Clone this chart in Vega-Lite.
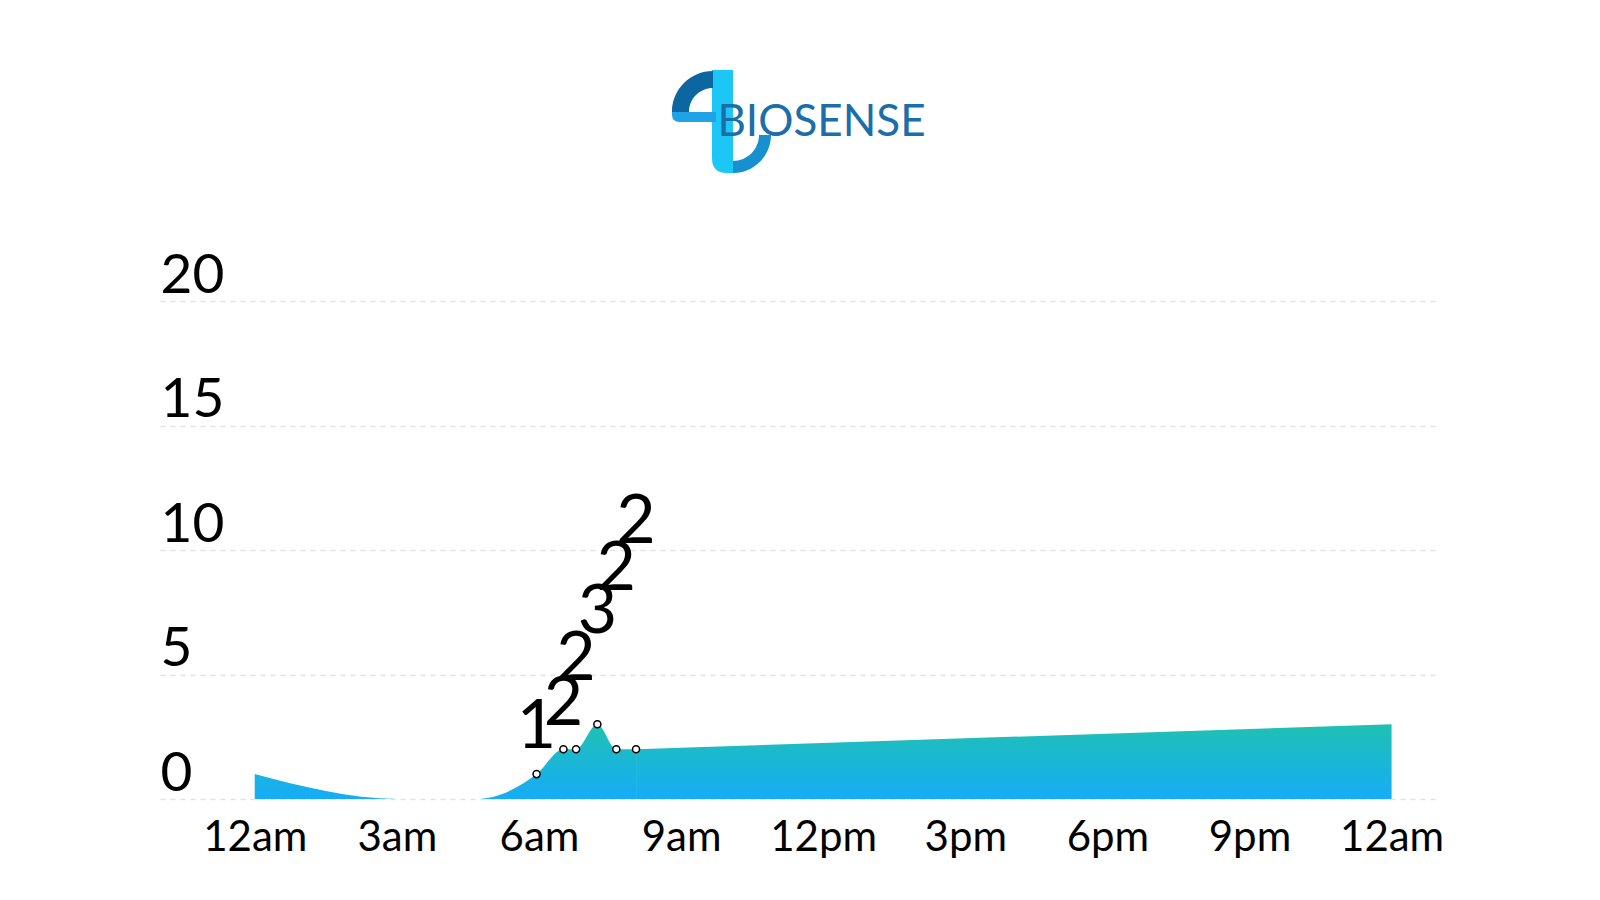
{
  "$schema": "https://vega.github.io/schema/vega-lite/v6.json",
  "background": "white",
  "autosize": {"type": "pad"},
  "padding": {"left": 160, "top": 40, "right": 0, "bottom": 0},
  "bounds": "flush",
  "spacing": 101,
  "config": {"view": {"stroke": null}, "font": "Lato"},
  "datasets": {
    "logo": [
      {"piece": "a_stem"},
      {"piece": "b_lower"},
      {"piece": "c_bar"},
      {"piece": "d_top"}
    ],
    "trend": [
      {"time": "2024-01-01T00:00:00", "count": 1},
      {"time": "2024-01-01T03:00:00", "count": 0},
      {"time": "2024-01-01T04:40:00", "count": 0},
      {"time": "2024-01-01T05:57:00", "count": 1},
      {"time": "2024-01-01T06:31:00", "count": 2},
      {"time": "2024-01-01T06:47:00", "count": 2},
      {"time": "2024-01-01T07:14:00", "count": 3},
      {"time": "2024-01-01T07:38:00", "count": 2},
      {"time": "2024-01-01T08:03:00", "count": 2},
      {"time": "2024-01-02T00:00:00", "count": 3}
    ],
    "readings": [
      {"time": "2024-01-01T05:57:00", "count": 1, "label_level": 2.05},
      {"time": "2024-01-01T06:31:00", "count": 2, "label_level": 2.97},
      {"time": "2024-01-01T06:47:00", "count": 2, "label_level": 4.78},
      {"time": "2024-01-01T07:14:00", "count": 3, "label_level": 6.67},
      {"time": "2024-01-01T07:38:00", "count": 2, "label_level": 8.39},
      {"time": "2024-01-01T08:03:00", "count": 2, "label_level": 10.28}
    ]
  },
  "vconcat": [
    {
      "width": 1275,
      "height": 160,
      "layer": [
        {
          "data": {"name": "logo"},
          "mark": {"type": "point", "filled": true, "size": 4, "opacity": 1, "strokeWidth": 0},
          "encoding": {
            "shape": {
              "field": "piece", "type": "nominal", "legend": null,
              "scale": {
                "domain": ["a_stem", "b_lower", "c_bar", "d_top"],
                "range": [
                  "M-85.5,-50 L-64.5,-50 L-64.5,53 L-71,53 Q-85.5,53 -85.5,38 Z",
                  "M-64.5,53 A38,38 0 0 0 -26.5,15 L-38.5,15 A26,26 0 0 1 -64.5,41 Z",
                  "M-81.5,-8 L-81.5,2 L-118,2 Q-125.5,2 -125.5,-5.5 L-125.5,-8 Z",
                  "M-125.5,-8 A41,41 0 0 1 -84.5,-49 L-84.5,-32 A24,24 0 0 0 -108.5,-8 Z"
                ]
              }
            },
            "color": {
              "field": "piece", "type": "nominal", "legend": null,
              "scale": {
                "domain": ["a_stem", "b_lower", "c_bar", "d_top"],
                "range": ["#1cc7f6", "#1690cf", "#1fa3e6", "#0c67a0"]
              }
            }
          }
        },
        {
          "data": {"values": [{"brand": "BIOSENSE"}]},
          "mark": {"type": "text", "fontSize": 44, "font": "Lato", "dx": 24, "dy": 16, "align": "center", "baseline": "alphabetic", "color": "#1b6ea8"},
          "encoding": {"text": {"field": "brand", "type": "nominal"}}
        }
      ]
    },
    {
      "width": 1275,
      "height": 498,
      "layer": [
        {
          "data": {"name": "trend"},
          "transform": [{"filter": {"field": "time", "lte": {"year": 2024, "month": 1, "date": 1, "hours": 8, "minutes": 3}}}],
          "mark": {
            "type": "area",
            "interpolate": "monotone",
            "color": {
              "gradient": "linear", "x1": 0, "y1": 1, "x2": 0, "y2": 0,
              "stops": [
                {"offset": 0, "color": "#16acf8"},
                {"offset": 1, "color": "#1fc1b2"}
              ]
            }
          },
          "encoding": {
            "x": {
              "field": "time", "type": "temporal", "title": null,
              "scale": {"domain": [
                {"year": 2023, "month": 12, "date": 31, "hours": 22},
                {"year": 2024, "month": 1, "date": 2, "hours": 0, "minutes": 55}
              ]},
              "axis": {
                "values": [
                  {"year": 2024, "month": 1, "date": 1, "hours": 0},
                  {"year": 2024, "month": 1, "date": 1, "hours": 3},
                  {"year": 2024, "month": 1, "date": 1, "hours": 6},
                  {"year": 2024, "month": 1, "date": 1, "hours": 9},
                  {"year": 2024, "month": 1, "date": 1, "hours": 12},
                  {"year": 2024, "month": 1, "date": 1, "hours": 15},
                  {"year": 2024, "month": 1, "date": 1, "hours": 18},
                  {"year": 2024, "month": 1, "date": 1, "hours": 21},
                  {"year": 2024, "month": 1, "date": 2, "hours": 0}
                ],
                "labelExpr": "lower(timeFormat(datum.value, '%-I%p'))",
                "domain": false, "ticks": false, "tickSize": 0, "grid": false,
                "labelPadding": 18, "labelFontSize": 42, "labelFont": "Lato",
                "labelColor": "#000000", "labelFlush": false, "labelOverlap": false
              }
            },
            "y": {
              "field": "count", "type": "quantitative", "title": null,
              "scale": {"domain": [0, 20], "nice": false},
              "axis": {
                "values": [0, 5, 10, 15, 20],
                "grid": true, "gridDash": [5, 5], "gridColor": "#e2e2e2", "gridWidth": 1.5,
                "domain": false, "ticks": false, "tickSize": 0, "labelPadding": 0,
                "labelAlign": "left", "labelBaseline": "alphabetic", "labelOffset": -9,
                "labelFontSize": 55, "labelFont": "Lato", "labelColor": "#000000",
                "labelFlush": false, "labelOverlap": false
              }
            }
          }
        },
        {
          "data": {"name": "trend"},
          "transform": [{"filter": {"field": "time", "gte": {"year": 2024, "month": 1, "date": 1, "hours": 8, "minutes": 3}}}],
          "mark": {
            "type": "area",
            "interpolate": "linear",
            "color": {
              "gradient": "linear", "x1": 0, "y1": 1, "x2": 0, "y2": 0,
              "stops": [
                {"offset": 0, "color": "#16acf8"},
                {"offset": 1, "color": "#1fc1b2"}
              ]
            }
          },
          "encoding": {
            "x": {"field": "time", "type": "temporal"},
            "y": {"field": "count", "type": "quantitative"}
          }
        },
        {
          "data": {"name": "readings"},
          "mark": {"type": "point", "filled": true, "fill": "white", "stroke": "black", "strokeWidth": 1.5, "size": 50, "opacity": 1},
          "encoding": {
            "x": {"field": "time", "type": "temporal"},
            "y": {"field": "count", "type": "quantitative"}
          }
        },
        {
          "data": {"name": "readings"},
          "mark": {"type": "text", "fontSize": 68, "font": "Lato", "align": "center", "baseline": "alphabetic", "color": "#000000"},
          "encoding": {
            "x": {"field": "time", "type": "temporal"},
            "y": {"field": "label_level", "type": "quantitative"},
            "text": {"field": "count", "type": "quantitative"}
          }
        }
      ]
    }
  ]
}
